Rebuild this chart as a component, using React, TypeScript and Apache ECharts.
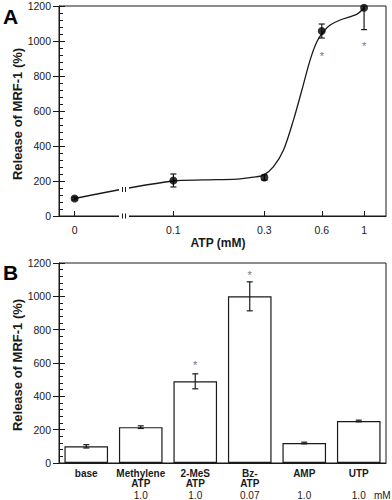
import React, { useEffect, useRef } from "react";
import * as echarts from "echarts";

// ---------- Panel A data ----------
const ATP_TICKS = [0, 0.1, 0.3, 0.6, 1];
const ATP_TICK_LABELS = ["0", "0.1", "0.3", "0.6", "1"];
const ATP = [0, 0.1, 0.3, 0.6, 1];
const RELEASE_A = [100, 203, 220, 1057, 1190];
const ERR_A = [8, 37, 15, 40, 125];
const FIT_ATP = [0, 0.1, 0.144, 0.216, 0.262, 0.297, 0.335, 0.378, 0.4265, 0.472, 0.521, 0.5654, 0.612, 0.664, 0.749, 0.919, 1];
const FIT_REL = [100, 200, 206, 211, 222, 234, 282, 377, 549, 720, 891, 996, 1053, 1091, 1120, 1154, 1190];
const STAR_A_ATP = [0.6, 1];
const STAR_A_VAL = [930, 990];

// ---------- Panel B data ----------
const AGONISTS = ["base", "Methylene\nATP", "2-MeS\nATP", "Bz-\nATP", "AMP", "UTP"];
const DOSES = ["", "1.0", "1.0", "0.07", "1.0", "1.0"];
const RELEASE_B = [100, 215, 490, 1000, 120, 252];
const ERR_B = [10, 8, 45, 87, 5, 5];
const STAR_B_IDX = [2, 3];
const STAR_B_VAL = [606, 1146];

// log-scaled concentration axis with a broken segment for 0
const ZERO_POS = -1.518;
const pos = (x: number) => (x === 0 ? ZERO_POS : Math.log10(x));

const FONT = "'Liberation Sans', Arial, Helvetica, sans-serif";
const INK = "#1a1a1a";

function errRender(params: any, api: any) {
  const x = api.value(0);
  const y = api.value(1);
  const e = api.value(2);
  const t = api.coord([x, y + e]);
  const b = api.coord([x, y - e]);
  const cs = params.coordSys;
  const w = 3;
  const st = { stroke: INK, lineWidth: 1.2 };
  const clipped = t[1] < cs.y;
  const ty = clipped ? cs.y : t[1];
  const children: any[] = [
    { type: "line", shape: { x1: t[0], y1: ty, x2: b[0], y2: b[1] }, style: st },
    { type: "line", shape: { x1: b[0] - w, y1: b[1], x2: b[0] + w, y2: b[1] }, style: st },
  ];
  if (!clipped) {
    children.push({ type: "line", shape: { x1: t[0] - w, y1: ty, x2: t[0] + w, y2: ty }, style: st });
  }
  return { type: "group", children };
}

function starRender(params: any, api: any) {
  const c = api.coord([api.value(0), api.value(1)]);
  return {
    type: "text",
    x: c[0],
    y: c[1] + 3,
    style: { text: "*", fill: "#777", font: `11px ${FONT}`, textAlign: "center", textVerticalAlign: "middle" },
  };
}

function breakRender(params: any, api: any) {
  const c = api.coord([api.value(0), api.value(1)]);
  const st = { stroke: INK, lineWidth: 1 };
  return {
    type: "group",
    children: [
      { type: "rect", shape: { x: c[0] - 5, y: c[1] - 3, width: 10, height: 6 }, style: { fill: "#fff" } },
      { type: "line", shape: { x1: c[0] - 1.5, y1: c[1] - 2.5, x2: c[0] - 1.5, y2: c[1] + 2.5 }, style: st },
      { type: "line", shape: { x1: c[0] + 1.5, y1: c[1] - 2.5, x2: c[0] + 1.5, y2: c[1] + 2.5 }, style: st },
    ],
  };
}

function yAxesFor(gridIndex: number) {
  const line = { lineStyle: { color: INK, width: 1 } };
  return [
    {
      type: "value",
      gridIndex,
      min: 0,
      max: 1200,
      interval: 200,
      axisLine: { show: true, onZero: false, ...line },
      axisTick: { show: true, inside: true, length: 6, ...line },
      minorTick: { show: true, splitNumber: 5, length: 4, ...line },
      axisLabel: { show: false },
      splitLine: { show: false },
      minorSplitLine: { show: false },
    },
    {
      type: "value",
      gridIndex,
      position: "left",
      offset: 0,
      min: 0,
      max: 1200,
      interval: 200,
      axisLine: { show: false, onZero: false },
      axisTick: { show: true, inside: false, length: 6, ...line },
      axisLabel: {
        show: true,
        margin: 8,
        color: INK,
        fontSize: 10.5,
        fontFamily: FONT,
        formatter: (v: number) => String(v),
      },
      splitLine: { show: false },
    },
  ];
}

export default function App() {
  const ref = useRef<HTMLDivElement>(null);

  useEffect(() => {
    if (!ref.current) return;
    const chart = echarts.init(ref.current, null, { renderer: "svg" });

    const tickPos = ATP_TICKS.map(pos);
    const breakX = (pos(ATP[0]) + pos(ATP[1])) / 2;
    const breakY = (RELEASE_A[0] + RELEASE_A[1]) / 2;

    const richLabel = (v: string, i: number) => {
      const lines = v.split("\n");
      while (lines.length < 2) lines.push(" ");
      const parts = lines.map((l) => `{b|${l}}`);
      if (DOSES[i]) parts.push(`{n|${DOSES[i]}}`);
      return parts.join("\n");
    };

    chart.setOption({
      animation: false,
      backgroundColor: "#fff",
      textStyle: { fontFamily: FONT },
      grid: [
        { left: 59, top: 6, width: 327, height: 210, show: true, borderColor: INK, borderWidth: 1, backgroundColor: "transparent" },
        { left: 59, top: 263, width: 327, height: 201, show: true, borderColor: INK, borderWidth: 1, backgroundColor: "transparent" },
      ],
      xAxis: [
        {
          type: "value",
          gridIndex: 0,
          min: -1.6,
          max: 0.115,
          axisLine: { show: true, onZero: false, lineStyle: { color: INK, width: 1 } },
          axisTick: { show: true, inside: true, length: 5, customValues: tickPos, lineStyle: { color: INK } },
          axisLabel: {
            show: true,
            customValues: tickPos,
            margin: 8,
            color: INK,
            fontSize: 10.5,
            fontFamily: FONT,
            formatter: (v: number) => {
              let best = 0;
              tickPos.forEach((p, i) => {
                if (Math.abs(p - v) < Math.abs(tickPos[best] - v)) best = i;
              });
              return ATP_TICK_LABELS[best];
            },
          },
          splitLine: { show: false },
        },
        {
          type: "category",
          gridIndex: 1,
          data: AGONISTS,
          axisLine: { show: true, onZero: false, lineStyle: { color: INK, width: 1 } },
          axisTick: { show: false },
          axisLabel: {
            interval: 0,
            margin: 5,
            color: INK,
            formatter: (v: string, i: number) => richLabel(v, i),
            rich: {
              b: { fontWeight: "bold", fontSize: 10, lineHeight: 10.5, fontFamily: FONT, color: INK },
              n: { fontSize: 10, lineHeight: 12, fontFamily: FONT, color: INK },
            },
          },
          splitLine: { show: false },
        },
      ],
      yAxis: [...yAxesFor(0), ...yAxesFor(1)],
      series: [
        {
          type: "line",
          xAxisIndex: 0,
          yAxisIndex: 0,
          data: FIT_ATP.map((x, i) => [pos(x), FIT_REL[i]]),
          smooth: 0.3,
          showSymbol: false,
          lineStyle: { color: INK, width: 1.3 },
          z: 2,
        },
        {
          type: "custom",
          xAxisIndex: 0,
          yAxisIndex: 0,
          data: [[breakX, 0], [breakX, breakY]],
          renderItem: breakRender,
          clip: false,
          z: 3,
        },
        {
          type: "custom",
          xAxisIndex: 0,
          yAxisIndex: 0,
          data: ATP.map((x, i) => [pos(x), RELEASE_A[i], ERR_A[i]]),
          renderItem: errRender,
          clip: false,
          z: 4,
        },
        {
          type: "scatter",
          xAxisIndex: 0,
          yAxisIndex: 0,
          data: ATP.map((x, i) => [pos(x), RELEASE_A[i]]),
          symbol: "circle",
          symbolSize: 8,
          itemStyle: { color: "#000" },
          clip: false,
          z: 5,
        },
        {
          type: "custom",
          xAxisIndex: 0,
          yAxisIndex: 0,
          data: STAR_A_ATP.map((x, i) => [pos(x), STAR_A_VAL[i]]),
          renderItem: starRender,
          clip: false,
          z: 5,
        },
        {
          type: "bar",
          xAxisIndex: 1,
          yAxisIndex: 2,
          data: RELEASE_B,
          barWidth: "80%",
          itemStyle: { color: "#fff", borderColor: INK, borderWidth: 1.2 },
          z: 2,
        },
        {
          type: "custom",
          xAxisIndex: 1,
          yAxisIndex: 2,
          data: RELEASE_B.map((v, i) => [i, v, ERR_B[i]]),
          renderItem: errRender,
          clip: false,
          z: 4,
        },
        {
          type: "custom",
          xAxisIndex: 1,
          yAxisIndex: 2,
          data: STAR_B_IDX.map((c, i) => [c, STAR_B_VAL[i]]),
          renderItem: starRender,
          clip: false,
          z: 5,
        },
      ],
      graphic: [
        { type: "text", x: 3, y: 6, style: { text: "A", font: `bold 21px ${FONT}`, fill: "#000" } },
        { type: "text", x: 3, y: 262, style: { text: "B", font: `bold 21px ${FONT}`, fill: "#000" } },
        {
          type: "text",
          x: 17,
          y: 114,
          rotation: Math.PI / 2,
          style: { text: "Release of MRF-1 (%)", font: `bold 13px ${FONT}`, fill: INK, textAlign: "center", textVerticalAlign: "middle" },
        },
        {
          type: "text",
          x: 17,
          y: 365,
          rotation: Math.PI / 2,
          style: { text: "Release of MRF-1 (%)", font: `bold 13px ${FONT}`, fill: INK, textAlign: "center", textVerticalAlign: "middle" },
        },
        {
          type: "text",
          x: 218,
          y: 243,
          style: { text: "ATP (mM)", font: `bold 12px ${FONT}`, fill: INK, textAlign: "center", textVerticalAlign: "middle" },
        },
        {
          type: "text",
          x: 374,
          y: 495,
          style: { text: "mM", font: `10px ${FONT}`, fill: INK, textAlign: "left", textVerticalAlign: "middle" },
        },
      ],
    });

    return () => chart.dispose();
  }, []);

  return (
    <div
      ref={ref}
      style={{ position: "absolute", left: 0, top: 0, width: 392, height: 500, background: "#fff" }}
    />
  );
}
